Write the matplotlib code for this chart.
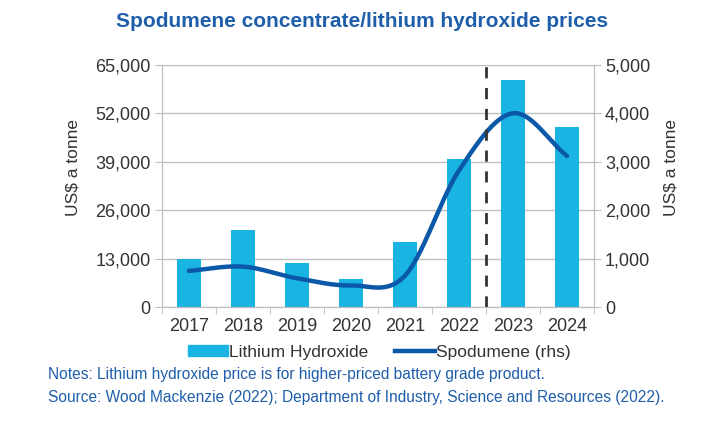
import matplotlib.pyplot as plt
import numpy as np
from matplotlib.lines import Line2D
from matplotlib.patches import Patch

plt.rcParams['font.family'] = ['Liberation Sans', 'DejaVu Sans']

years = ["2017", "2018", "2019", "2020", "2021", "2022", "2023", "2024"]
lithium_hydroxide = [12950, 20700, 11800, 7500, 17450, 39800, 61000, 48400]
spodumene = [750, 838, 598, 450, 650, 2820, 4003, 3122]

left_ticks = [0, 13000, 26000, 39000, 52000, 65000]
right_ticks = [0, 1000, 2000, 3000, 4000, 5000]

bar_color = '#1AB4E2'
line_color = '#0B58A8'
text_color = '#333333'
blue_text = '#1F5EAA'
grid_color = '#BFBFBF'


def smooth(y, n=30):
    # Catmull-Rom style curve through the points (like Excel's smoothed line)
    y = np.asarray(y, dtype=float)
    pts = np.concatenate([[2 * y[0] - y[1]], y, [2 * y[-1] - y[-2]]])
    xs, ys = [], []
    for i in range(len(y) - 1):
        p0, p1, p2, p3 = pts[i], pts[i + 1], pts[i + 2], pts[i + 3]
        m1 = (p2 - p0) / 2
        m2 = (p3 - p1) / 2
        t = np.linspace(0, 1, n, endpoint=False)
        h00 = 2 * t**3 - 3 * t**2 + 1
        h10 = t**3 - 2 * t**2 + t
        h01 = -2 * t**3 + 3 * t**2
        h11 = t**3 - t**2
        xs.extend(i + t)
        ys.extend(h00 * p1 + h10 * m1 + h01 * p2 + h11 * m2)
    xs.append(len(y) - 1)
    ys.append(y[-1])
    return np.array(xs), np.array(ys)


fig = plt.figure(figsize=(7.13, 4.22), dpi=100)
ax = fig.add_axes([0.227, 0.272, 0.606, 0.574])
ax2 = ax.twinx()

x = np.arange(len(years))
ax.bar(x, lithium_hydroxide, width=0.45, color=bar_color, zorder=2)
ax.set_xlim(-0.5, len(years) - 0.5)
ax.set_ylim(0, 65000)
ax.set_yticks(left_ticks)
ax.set_yticklabels([f"{v:,}" for v in left_ticks])
ax.yaxis.grid(True, color=grid_color, linewidth=1, zorder=0)
ax.set_axisbelow(True)

ax.set_xticks(x)
ax.set_xticklabels(years)
ax.set_xticks(np.arange(-0.5, len(years), 1), minor=True)
ax.tick_params(axis='x', which='major', length=0, pad=8, labelsize=13, labelcolor=text_color)
ax.tick_params(axis='x', which='minor', length=5, color=grid_color, direction='out')
ax.tick_params(axis='y', length=5, color=grid_color, labelsize=13, labelcolor=text_color, pad=3)
ax.set_ylabel("US$ a tonne", fontsize=12.5, color=text_color)
ax.yaxis.set_label_coords(-0.188, 0.575)

sx, sy = smooth(spodumene)
ax2.plot(sx, sy, color=line_color, linewidth=3.2, solid_capstyle='round', zorder=3)
ax2.set_ylim(0, 5000)
ax2.set_yticks(right_ticks)
ax2.set_yticklabels([f"{v:,}" for v in right_ticks])
ax2.tick_params(axis='y', length=5, color=grid_color, labelsize=13, labelcolor=text_color, pad=3)
ax2.set_ylabel("US$ a tonne", fontsize=12.5, color=text_color)
ax2.yaxis.set_label_coords(1.16, 0.575)

# forecast divider between 2022 and 2023
ax2.axvline(5.5, color='#333333', linestyle=(0, (4, 3.5)), linewidth=2, zorder=4)

for a in (ax, ax2):
    a.spines['top'].set_visible(False)
    for s in ('left', 'right', 'bottom'):
        a.spines[s].set_color(grid_color)

fig.text(0.508, 0.948, "Spodumene concentrate/lithium hydroxide prices",
         ha='center', va='center', fontsize=15, fontweight='bold', color=blue_text)

handles = [Patch(color=bar_color), Line2D([0], [0], color=line_color, linewidth=3.2)]
fig.legend(handles, ["Lithium Hydroxide", "Spodumene (rhs)"], loc='center',
           bbox_to_anchor=(0.532, 0.165), ncol=2, frameon=False, fontsize=12.5,
           handlelength=2.3, handleheight=0.6, handletextpad=0.1, columnspacing=1.5,
           labelcolor=text_color)

fig.text(0.067, 0.112, "Notes: Lithium hydroxide price is for higher-priced battery grade product.",
         fontsize=11.2, color=blue_text, va='center')
fig.text(0.067, 0.059, "Source: Wood Mackenzie (2022); Department of Industry, Science and Resources (2022).",
         fontsize=11.2, color=blue_text, va='center')

fig.savefig("out.png", dpi=100)
